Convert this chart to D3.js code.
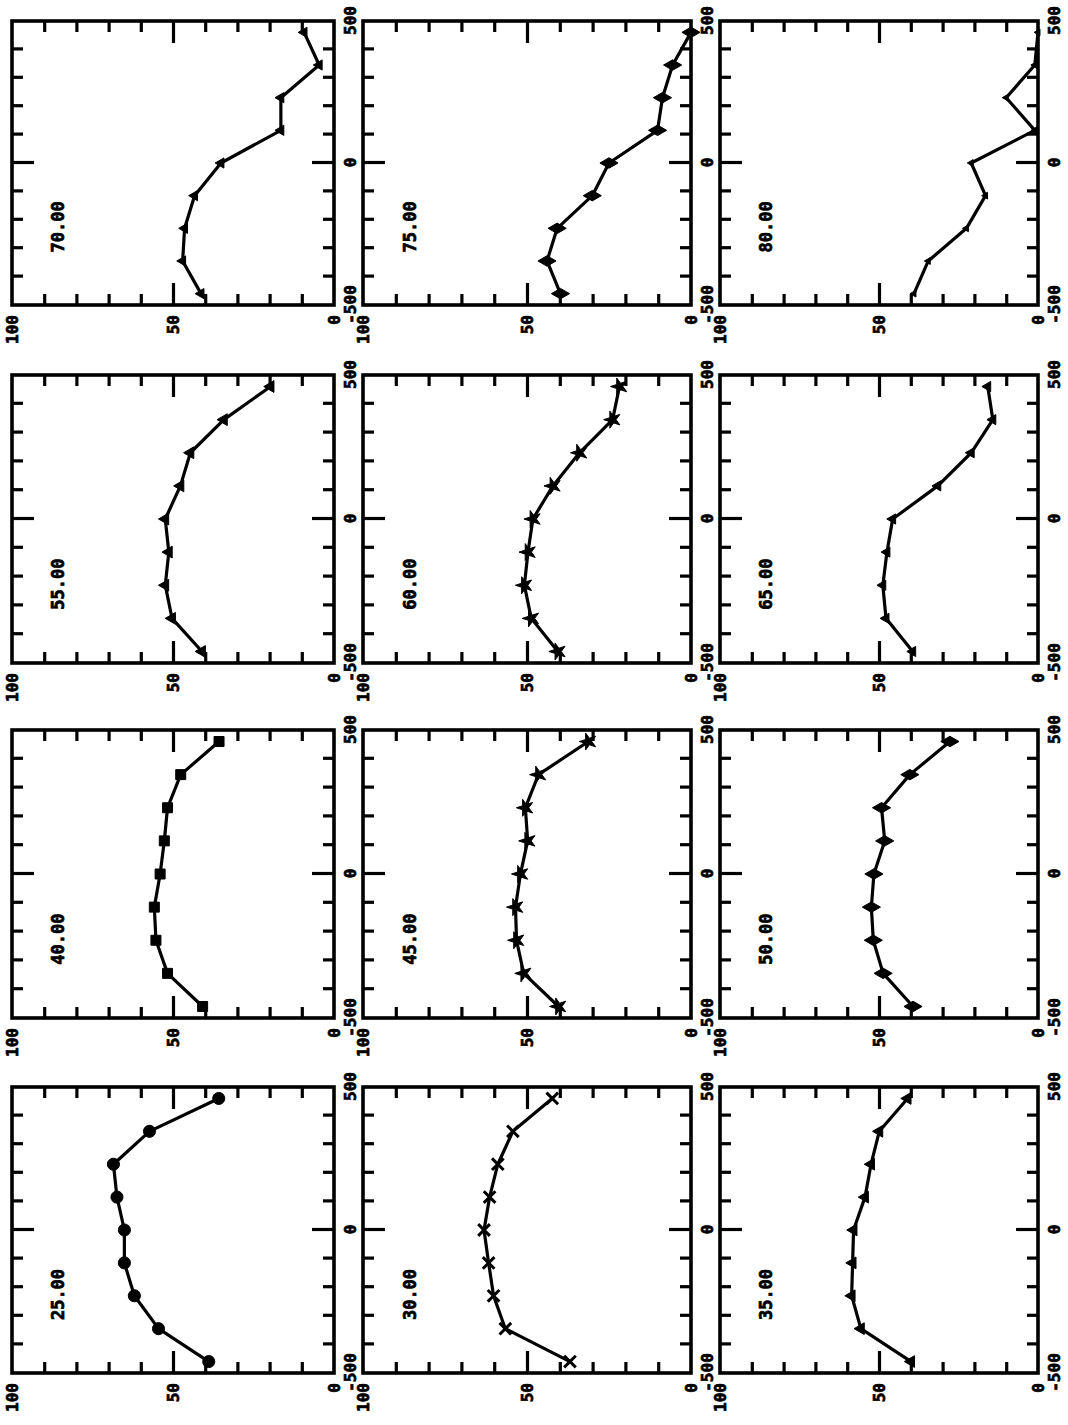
<!DOCTYPE html>
<html>
<head>
<meta charset="utf-8">
<script src="https://cdn.jsdelivr.net/npm/d3@7"></script>
<style>
  html, body { margin: 0; padding: 0; background: #fff; }
  svg { display: block; }
</style>
</head>
<body>
<svg id="chart" width="1068" height="1425"></svg>
<script>
// Station positions along the traverse (shared by every panel)
const distances = [-460, -345, -230, -115, 0, 115, 230, 345, 460];

// Panel captions
const panelLabels = ["25.00", "30.00", "35.00", "40.00", "45.00", "50.00",
                     "55.00", "60.00", "65.00", "70.00", "75.00", "80.00"];

// Percentages at each station, one array per panel
const pct25 = [38.9, 54.5, 62.0, 65.1, 65.1, 67.4, 68.5, 57.3, 35.8];
const pct30 = [36.9, 56.6, 60.2, 61.7, 63.1, 61.4, 58.9, 54.3, 42.3];
const pct35 = [39.9, 55.7, 58.6, 58.3, 58.0, 54.4, 52.5, 49.9, 41.0];
const pct40 = [40.8, 51.7, 55.3, 55.8, 54.0, 52.7, 51.7, 47.6, 35.7];
const pct45 = [40.4, 51.0, 53.2, 53.5, 52.0, 49.8, 50.5, 46.5, 31.3];
const pct50 = [39.3, 48.7, 51.8, 52.4, 51.6, 48.2, 49.2, 40.3, 27.7];
const pct55 = [41.0, 50.3, 52.4, 51.3, 52.4, 47.7, 44.6, 34.2, 19.7];
const pct60 = [40.6, 48.7, 50.8, 49.7, 48.2, 42.1, 34.0, 23.9, 21.8];
const pct65 = [39.4, 47.8, 48.8, 47.5, 45.7, 31.5, 21.0, 14.2, 15.8];
const pct70 = [41.3, 47.0, 46.4, 43.3, 35.1, 16.5, 16.5, 4.6, 9.3];
const pct75 = [39.8, 43.9, 40.8, 30.1, 25.0, 10.2, 8.7, 5.6, 0.0];
const pct80 = [39.0, 34.5, 22.5, 16.5, 21.0, 1.0, 10.0, 1.0, 0.0];

const series = [pct25, pct30, pct35, pct40, pct45, pct50,
                pct55, pct60, pct65, pct70, pct75, pct80];

// Axis ticks and labels
const xMinorTicks = [-400, -300, -200, -100, 100, 200, 300, 400];
const xMajorTicks = [0];
const xTickLabels = [-500, 0, 500];
const yMinorTicks = [10, 20, 30, 40, 60, 70, 80, 90];
const yMajorTicks = [50];
const yTickLabels = [0, 50, 100];

// Plot symbol used for each panel
const symbolKinds = ["circle", "times", "triangle", "square", "star", "diamond",
                     "triangle", "star", "wedge", "wedge", "diamond", "tick"];

// ---- layout of the 4 x 3 sheet (plates are drawn turned a quarter turn) ----
const colLeft = [12, 363, 720];
const colWidth = [322, 328, 318];      // percentage axis length on the sheet
const rowTop = [21, 375, 730, 1087];
const rowHeight = [284, 288, 288, 286]; // distance axis length on the sheet

const INK = "#000";
const FONT = "'DejaVu Sans Mono', monospace";
const svg = d3.select("#chart");

function symbolFor(kind) {
  switch (kind) {
    case "circle":   return { type: d3.symbolCircle, size: 115, fill: true };
    case "times":    return { type: d3.symbolTimes || d3.symbolCross, size: 90, fill: false };
    case "triangle": return { type: d3.symbolTriangle, size: 60, fill: true };
    case "square":   return { type: d3.symbolSquare, size: 100, fill: true };
    case "star":     return { type: d3.symbolStar, size: 90, fill: true };
    case "diamond":  return { type: d3.symbolDiamond, size: 95, fill: true };
    case "wedge":    return { type: d3.symbolTriangle, size: 45, fill: true };
    default:         return { type: d3.symbolTriangle, size: 20, fill: true };
  }
}

series.forEach((values, i) => {
  const r = 3 - Math.floor(i / 3);
  const c = i % 3;
  const W = rowHeight[r];   // local width  (distance axis)
  const H = colWidth[c];    // local height (percentage axis)

  const x = d3.scaleLinear().domain([-500, 500]).range([0, W]);
  const y = d3.scaleLinear().domain([0, 100]).range([H, 0]);

  const g = svg.append("g")
    .attr("transform", `translate(${colLeft[c]},${rowTop[r] + W}) rotate(-90)`);

  // inward ticks on all four sides
  const addTicks = (axis, tx, ty, vals, len) => {
    const a = g.append("g")
      .attr("transform", `translate(${tx},${ty})`)
      .call(axis.tickValues(vals).tickSize(-len).tickSizeOuter(0).tickFormat(""));
    a.select(".domain").remove();
    a.selectAll("line").attr("stroke", INK).attr("stroke-width", 3.2);
  };
  addTicks(d3.axisBottom(x), 0, H, xMinorTicks, 11);
  addTicks(d3.axisTop(x), 0, 0, xMinorTicks, 11);
  addTicks(d3.axisBottom(x), 0, H, xMajorTicks, 22);
  addTicks(d3.axisTop(x), 0, 0, xMajorTicks, 22);
  addTicks(d3.axisLeft(y), 0, 0, yMinorTicks, 11);
  addTicks(d3.axisRight(y), W, 0, yMinorTicks, 11);
  addTicks(d3.axisLeft(y), 0, 0, yMajorTicks, 22);
  addTicks(d3.axisRight(y), W, 0, yMajorTicks, 22);

  // frame
  g.append("rect")
    .attr("x", 0).attr("y", 0).attr("width", W).attr("height", H)
    .attr("fill", "none").attr("stroke", INK).attr("stroke-width", 3.6);

  // tick labels (plain hyphen for negatives)
  const fmt = d => String(d);
  const xl = g.append("g").attr("transform", `translate(0,${H})`)
    .call(d3.axisBottom(x).tickValues(xTickLabels).tickFormat(fmt).tickSize(0).tickPadding(11));
  xl.select(".domain").remove();
  const yl = g.append("g")
    .call(d3.axisLeft(y).tickValues(yTickLabels).tickFormat(fmt).tickSize(0).tickPadding(10));
  yl.select(".domain").remove();
  [xl, yl].forEach(a => {
    a.attr("font-family", FONT)
     .attr("font-size", 16).attr("font-weight", "bold");
    a.selectAll("text").attr("fill", INK)
     .attr("stroke", INK).attr("stroke-width", 0.7);
  });

  // panel caption
  g.append("text")
    .attr("x", x(-315)).attr("y", y(85.7))
    .attr("dy", "0.36em")
    .attr("font-family", FONT)
    .attr("font-size", 17).attr("font-weight", "bold")
    .attr("fill", INK).attr("stroke", INK).attr("stroke-width", 0.7)
    .text(panelLabels[i]);

  // data line
  const pts = distances.map((d, k) => [d, values[k]]);
  g.append("path")
    .datum(pts)
    .attr("fill", "none").attr("stroke", INK)
    .attr("stroke-width", 3.2).attr("stroke-linejoin", "round")
    .attr("d", d3.line().x(d => x(d[0])).y(d => y(d[1])));

  // plot symbols
  const sym = symbolFor(symbolKinds[i]);
  g.selectAll("path.mark")
    .data(pts)
    .join("path")
    .attr("class", "mark")
    .attr("transform", d => `translate(${x(d[0])},${y(d[1])})`)
    .attr("d", d3.symbol().type(sym.type).size(sym.size))
    .attr("fill", sym.fill ? INK : "none")
    .attr("stroke", INK)
    .attr("stroke-width", sym.fill ? 1 : 3);
});
</script>
</body>
</html>
